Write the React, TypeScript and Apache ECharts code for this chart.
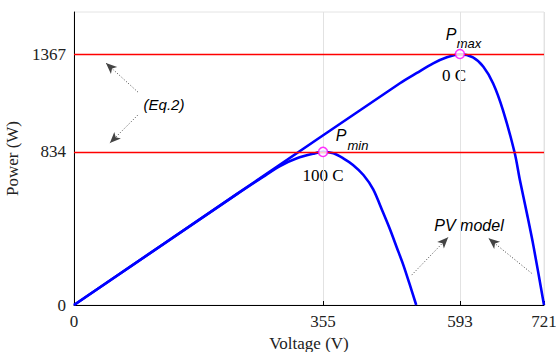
import React, { useEffect, useRef } from "react";
import * as echarts from "echarts";

// Axis ticks (positions on the axis and the labels printed there)
const xTickPositions = [0, 382, 592, 721];
const xTickLabels = ["0", "355", "593", "721"];
const yTickValues = [0, 834, 1367];
const xMax = 721;
const yMax = 1596;

// Curve at 0 C (x, power)
const curve0C: [number, number][] = [
  [0, 0], [250, 605], [500, 1208], [526, 1264], [551, 1316], [572, 1349],
  [592, 1366], [612, 1349], [628, 1298], [643, 1207], [658, 1062],
  [676, 829], [684, 681], [695, 495], [705, 318], [721, 0],
];
// Curve at 100 C
const curve100C: [number, number][] = [
  [0, 0], [250, 604], [290, 698], [316, 757], [342, 799], [367, 824],
  [382, 834], [398, 826], [413, 799], [428, 763], [444, 708], [459, 630],
  [474, 505], [485, 410], [495, 315], [505, 220], [515, 112], [525, 0],
];
// Peak points
const peaks: [number, number][] = [[382, 834], [592, 1367]];
// Horizontal reference levels (Eq.2)
const levels = [834, 1367];
// Annotation arrows [tail, head] in data space
const arrows: [[number, number], [number, number]][] = [
  [[98, 1160], [49, 1318]],
  [[98, 1035], [55, 882]],
  [[518, 163], [574, 369]],
  [[702, 173], [636, 363]],
];

const SERIF = '"Liberation Serif", "DejaVu Serif", serif';
const SANS = '"Liberation Sans", Arial, sans-serif';

export default function App() {
  const ref = useRef<HTMLDivElement>(null);
  useEffect(() => {
    document.body.style.margin = "0";
    const chart = echarts.init(ref.current!, null, { renderer: "svg" });
    const txt = (text: string, x: number, y: number, font: string) => ({
      type: "text",
      x,
      y,
      silent: true,
      style: {
        text,
        font,
        fill: "#000",
        align: "center",
        verticalAlign: "middle",
        textAlign: "center",
        textVerticalAlign: "middle",
      },
    });
    chart.setOption({
      animation: false,
      grid: {
        left: 74,
        right: 12,
        top: 12,
        bottom: 47,
        containLabel: false,
        outerBoundsMode: "none",
        show: true,
        borderColor: "#e4e4e4",
        borderWidth: 1,
      },
      xAxis: {
        type: "value",
        min: 0,
        max: xMax,
        name: "Voltage (V)",
        nameLocation: "middle",
        nameGap: 30,
        nameTextStyle: { fontFamily: SERIF, fontSize: 17, color: "#222" },
        axisLine: { show: true, onZero: false, lineStyle: { color: "#000", width: 1 } },
        axisTick: { show: true, inside: true, length: 4, customValues: xTickPositions, lineStyle: { color: "#000" } },
        axisLabel: {
          customValues: xTickPositions,
          formatter: (v: number) => {
            const i = xTickPositions.indexOf(v);
            return i >= 0 ? xTickLabels[i] : "";
          },
          margin: 8,
          fontFamily: SERIF,
          fontSize: 17,
          color: "#222",
        },
        splitLine: { show: true, lineStyle: { color: "#e2e2e2", width: 1 } },
      },
      yAxis: {
        type: "value",
        min: 0,
        max: yMax,
        name: "Power (W)",
        nameLocation: "middle",
        nameGap: 45,
        nameRotate: 90,
        nameTextStyle: { fontFamily: SERIF, fontSize: 17, color: "#222" },
        axisLine: { show: true, onZero: false, lineStyle: { color: "#000", width: 1 } },
        axisTick: { show: true, inside: true, length: 4, customValues: yTickValues, lineStyle: { color: "#000" } },
        axisLabel: {
          customValues: yTickValues,
          formatter: (v: number) => String(v),
          margin: 8,
          fontFamily: SERIF,
          fontSize: 17,
          color: "#222",
        },
        splitLine: { show: false },
      },
      series: [
        {
          type: "line",
          data: curve100C,
          smooth: 0.3,
          showSymbol: false,
          lineStyle: { color: "#0000ff", width: 2.6 },
          z: 3,
          silent: true,
        },
        {
          type: "line",
          data: curve0C,
          smooth: 0.3,
          showSymbol: false,
          lineStyle: { color: "#0000ff", width: 2.6 },
          z: 3,
          silent: true,
          markLine: {
            silent: true,
            symbol: ["none", "none"],
            label: { show: false },
            lineStyle: { color: "#ff0000", width: 1.3, type: "solid" },
            data: levels.map((v) => ({ yAxis: v })),
            z: 4,
          },
        },
        {
          type: "line",
          data: [],
          silent: true,
          markLine: {
            silent: true,
            symbol: ["none", "arrow"],
            symbolSize: [7, 11],
            label: { show: false },
            lineStyle: { color: "#444", width: 1, type: [1, 2] },
            data: arrows.map(([a, b]) => [{ coord: a }, { coord: b }]),
          },
        },
        {
          type: "scatter",
          data: peaks,
          symbol: "circle",
          symbolSize: 9,
          itemStyle: { color: "#ffffff", borderColor: "#ff00ff", borderWidth: 1.5 },
          z: 6,
          silent: true,
        },
      ],
      graphic: [
        txt("P", 451, 34, "italic 16px " + SANS),
        txt("max", 469, 43, "italic 13px " + SANS),
        txt("0 C", 454, 75, "17px " + SERIF),
        txt("P", 341, 135, "italic 16px " + SANS),
        txt("min", 358, 145, "italic 13px " + SANS),
        txt("100 C", 323, 175, "17px " + SERIF),
        txt("(Eq.2)", 164, 104, "italic 15px " + SANS),
        txt("PV model", 469, 225, "italic 16px " + SANS),
      ],
    });
    return () => chart.dispose();
  }, []);
  return <div ref={ref} style={{ width: 556, height: 352 }} />;
}
